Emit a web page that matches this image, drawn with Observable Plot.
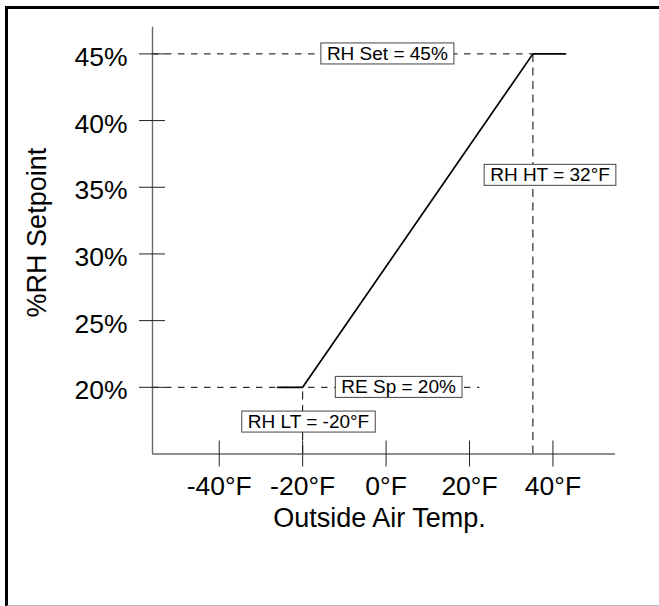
<!DOCTYPE html>
<html><head><meta charset="utf-8">
<script src="https://cdn.jsdelivr.net/npm/d3@7"></script>
<script src="https://cdn.jsdelivr.net/npm/@observablehq/plot@0.6"></script>
<style>
html,body{margin:0;padding:0;background:#fff;overflow:hidden}
#wrap{position:relative;width:659px;height:606px}
#frame{position:absolute;left:5px;top:6px;width:660px;height:596px;border-left:3px solid #000;border-top:3px solid #000;border-bottom:2px solid #b4b4b4;pointer-events:none}
svg{display:block}
</style></head><body><div id="wrap"><div id="frame"></div></div>
<script>
// ---- data ----
const xDomain = [-56, 55];
const yDomain = [15, 47];
const xTicks = [-40, -20, 0, 20, 40];
const yTicks = [20, 25, 30, 35, 40, 45];
const curveT = [-26, -20, 35.2, 43];
const curveRH = [20, 20, 45, 45];
const lowTemp = -20, highTemp = 35.2, lowRH = 20, highRH = 45;
const lowRHDashEnd = 22.5;
const labelText = ["RH Set = 45%", "RE Sp = 20%", "RH LT = -20°F", "RH HT = 32°F"];
const labelT = [0.3, 3, -18.6, 39.3];
const labelRH = [45, 20, 17.4, 35.9];

const curve = curveT.map((t, i) => ({t, rh: curveRH[i]}));
const labels = labelText.map((s, i) => ({s, t: labelT[i], rh: labelRH[i]}));
const dash = "6.5,6.5";
const font = "'Liberation Sans', Arial, sans-serif";

const chart = Plot.plot({
  width: 659, height: 606,
  marginLeft: 152, marginRight: 44, marginTop: 26.7, marginBottom: 152.5,
  style: {fontFamily: font, background: "transparent", color: "#000"},
  x: {domain: xDomain},
  y: {domain: yDomain},
  marks: [
    // dashed guide lines
    Plot.ruleY([highRH], {x1: xDomain[0], x2: highTemp, stroke: "#000", strokeWidth: 1, strokeDasharray: dash}),
    Plot.ruleY([lowRH], {x1: xDomain[0], x2: lowRHDashEnd, stroke: "#000", strokeWidth: 1, strokeDasharray: dash}),
    Plot.ruleX([highTemp], {y1: yDomain[0], y2: highRH, stroke: "#000", strokeWidth: 1, strokeDasharray: "8,5.5"}),
    Plot.ruleX([lowTemp], {y1: yDomain[0], y2: lowRH, stroke: "#000", strokeWidth: 1, strokeDasharray: "8,5.5"}),
    // axis lines
    Plot.ruleY([yDomain[0]], {stroke: "#6a6a6a", strokeWidth: 1.4}),
    Plot.ruleX([xDomain[0]], {stroke: "#6a6a6a", strokeWidth: 1.4}),
    // crossing ticks
    Plot.ruleX(xTicks, {y1: yDomain[0], y2: yDomain[0], insetTop: -13, insetBottom: -13, stroke: "#222", strokeWidth: 1}),
    Plot.ruleY(yTicks, {x1: xDomain[0], x2: xDomain[0], insetLeft: -13, insetRight: -13, stroke: "#222", strokeWidth: 1}),
    // the setpoint curve
    Plot.line(curve, {x: "t", y: "rh", stroke: "#000", strokeWidth: 1.7}),
    // axes
    Plot.axisX({ticks: xTicks, tickFormat: d => `${d}°F`, tickSize: 0, tickPadding: 22.5, fontSize: 26.5, label: null}),
    Plot.axisY({ticks: yTicks, tickFormat: d => `${d}%`, tickSize: 0, tickPadding: 25, fontSize: 26.5, dy: 3.5, label: null}),
    Plot.text(["Outside Air Temp."], {text: d => d, frameAnchor: "bottom", dy: 73, dx: -4.5, fontSize: 27, fill: "#000"}),
    Plot.text(["%RH Setpoint"], {text: d => d, frameAnchor: "left", textAnchor: "middle", rotate: -90, dx: -115, dy: -8, fontSize: 27, fill: "#000"}),
    // boxed labels
    Plot.text(labels, {x: "t", y: "rh", text: "s", fontSize: 19, fill: "#000"})
  ]
});
document.getElementById("wrap").prepend(chart);

// draw boxes behind labels
d3.select(chart).selectAll("text")
  .filter(function () { return labelText.includes(this.textContent); })
  .each(function () {
    const b = this.getBBox();
    const r = document.createElementNS("http://www.w3.org/2000/svg", "rect");
    r.setAttribute("x", b.x - 6);
    r.setAttribute("y", b.y);
    r.setAttribute("width", b.width + 12);
    r.setAttribute("height", b.height);
    r.setAttribute("fill", "#fff");
    r.setAttribute("stroke", "#444");
    r.setAttribute("stroke-width", "1");
    const tr = this.getAttribute("transform");
    if (tr) r.setAttribute("transform", tr);
    this.parentNode.insertBefore(r, this);
  });
</script></body></html>
